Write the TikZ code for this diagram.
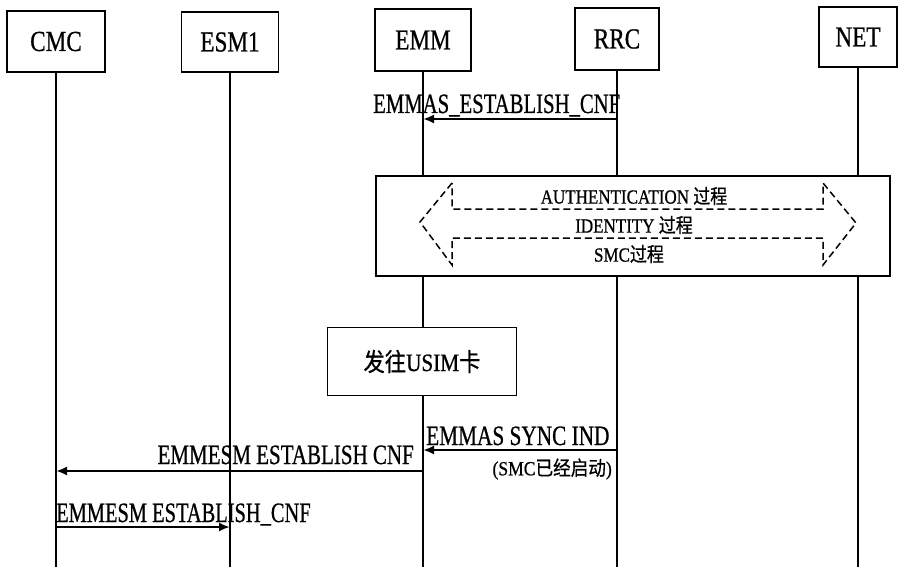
\documentclass[tikz,border=0pt]{standalone}
\usepackage{fontspec}
\setmainfont{Liberation Serif}[FakeBold=0.8]
\newfontfamily\cjk{Noto Sans CJK SC}[FakeBold=0.8]
\usetikzlibrary{arrows.meta}
\newcommand\sqz[2]{\scalebox{#1}[1]{#2}}
\tikzset{
  hdr/.style={draw, line width=1.6pt, fill=white, inner sep=0pt, font=\fontsize{29}{31}\selectfont},
  life/.style={line width=1.6pt},
  msg/.style={line width=2.2pt, -{Latex[length=11pt,width=9pt]}},
  lbl/.style={inner sep=0pt, font=\fontsize{28}{30}\selectfont},
  procbox/.style={draw, line width=1.9pt, fill=white, inner sep=0pt},
  dasharrow/.style={dash pattern=on 7pt off 4pt, line width=1.5pt},
}
\begin{document}
\begin{tikzpicture}[x=1pt, y=-1pt]
\useasboundingbox (0,0) rectangle (901,567);
\coordinate (bottom) at (0,567);
% headers
\node[hdr, minimum width=98pt, minimum height=61pt] (cmc) at (56,41.5) {\sqz{0.8}{CMC}};
\node[hdr, minimum width=97pt, minimum height=60pt] (esm) at (230,42) {\sqz{0.8}{ESM1}};
\node[hdr, minimum width=96pt, minimum height=62pt] (emm) at (423,40) {\sqz{0.8}{EMM}};
\node[hdr, minimum width=84pt, minimum height=62pt] (rrc) at (617,39) {\sqz{0.8}{RRC}};
\node[hdr, minimum width=78pt, minimum height=60pt] (net) at (858,37) {\sqz{0.8}{NET}};
% lifelines
\foreach \n in {cmc,esm,emm,rrc,net}
  \draw[life] (\n.south) -- (\n.south |- bottom);
% message 1
\path (rrc.south |- 0,119) coordinate (m1s) (emm.south |- 0,119) coordinate (m1e);
\draw[msg] (m1s) -- (m1e);
\node[lbl, anchor=base west] (l1) at (373,113) {\sqz{0.74}{EMMAS\_ESTABLISH\_CNF}};
% procedure box
\node[procbox, minimum width=514pt, minimum height=100pt] (proc) at (633,226) {};
\draw[dasharrow] (452,183) -- (420,222) -- (452,265) -- (452,238) -- (823,238) -- (823,265)
  -- (856,223) -- (823,183) -- (823,209) -- (452,209) -- cycle;
\node[lbl, font=\fontsize{20}{22}\selectfont] (auth) at (634,196) {\sqz{0.85}{AUTHENTICATION {\cjk 过程}}};
\node[lbl, font=\fontsize{20}{22}\selectfont] (ident) at (634,225) {\sqz{0.85}{IDENTITY {\cjk 过程}}};
\node[lbl, font=\fontsize{20}{22}\selectfont] (smc) at (629,254) {\sqz{0.85}{SMC{\cjk 过程}}};
% USIM box
\node[procbox, minimum width=189pt, minimum height=68pt, font=\fontsize{25}{27}\selectfont] (usim) at (422,361.5)
  {\sqz{0.85}{{\cjk 发往}USIM{\cjk 卡}}};
% message 2
\path (rrc.south |- 0,450) coordinate (m2s) (emm.south |- 0,450) coordinate (m2e);
\draw[msg] (m2s) -- (m2e);
\node[lbl, anchor=base west] (l2) at (426,445) {\sqz{0.76}{EMMAS SYNC IND}};
\node[lbl, font=\fontsize{20}{22}\selectfont, anchor=east] (l2b) at (612,469) {\sqz{0.88}{(SMC{\cjk 已经启动})}};
% message 3
\path (emm.south |- 0,471) coordinate (m3s) (cmc.south |- 0,471) coordinate (m3e);
\draw[msg] (m3s) -- (m3e);
\node[lbl, anchor=base east] (l3) at (414,464) {\sqz{0.75}{EMMESM ESTABLISH CNF}};
% message 4
\path (cmc.south |- 0,527) coordinate (m4s) (esm.south |- 0,527) coordinate (m4e);
\draw[msg] (m4s) -- (m4e);
\node[lbl, anchor=base west] (l4) at (56,522) {\sqz{0.73}{EMMESM ESTABLISH\_CNF}};
\end{tikzpicture}
\end{document}
